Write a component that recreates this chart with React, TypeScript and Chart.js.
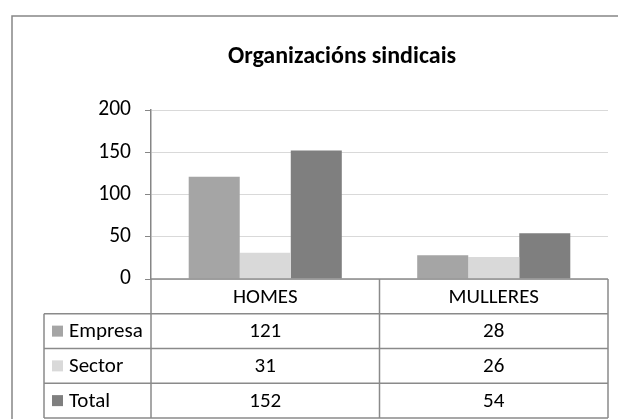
import React, { useEffect, useRef } from "react";
import { Chart, registerables } from "chart.js";

Chart.register(...registerables);

const chartTitle = "Organizacións sindicais";
const categories = ["HOMES", "MULLERES"];
const seriesNames = ["Empresa", "Sector", "Total"];
const empresa = [121, 28];
const sector = [31, 26];
const total = [152, 54];
const yTicks = [0, 50, 100, 150, 200];
const seriesColors = ["#a5a5a5", "#d9d9d9", "#7f7f7f"];

const FONT = "Calibri, Carlito, Lato, sans-serif";

const tablePlugin = {
  id: "excelTable",
  beforeDraw(chart: any) {
    const { ctx } = chart;
    ctx.save();
    ctx.fillStyle = "#ffffff";
    ctx.fillRect(0, 0, chart.width, chart.height);
    ctx.strokeStyle = "#868686";
    ctx.lineWidth = 1.5;
    ctx.beginPath();
    ctx.moveTo(chart.width + 5, 16);
    ctx.lineTo(12, 16);
    ctx.lineTo(12, chart.height + 5);
    ctx.stroke();
    ctx.restore();
  },
  afterDraw(chart: any) {
    const { ctx, chartArea, scales } = chart;
    const xs = scales.x;
    const left = chartArea.left;
    const right = chartArea.right;
    const top = chartArea.bottom;
    const rowH = 34.75;
    const legendLeft = 44;
    const n = categories.length;
    const catW = (right - left) / n;

    ctx.save();
    // title
    ctx.fillStyle = "#000000";
    ctx.font = `bold 24px ${FONT}`;
    ctx.textAlign = "center";
    ctx.textBaseline = "alphabetic";
    ctx.fillText(chartTitle, 342, 63);

    // table lines
    ctx.strokeStyle = "#8a8a8a";
    ctx.lineWidth = 1.5;
    ctx.beginPath();
    ctx.moveTo(left, top);
    ctx.lineTo(right, top);
    const rows = chart.data.datasets.length;
    for (let i = 1; i <= rows + 1; i++) {
      const y = top + i * rowH;
      ctx.moveTo(legendLeft, y);
      ctx.lineTo(right, y);
    }
    const bottom = top + (rows + 1) * rowH;
    ctx.moveTo(legendLeft, top + rowH);
    ctx.lineTo(legendLeft, bottom);
    for (let c = 0; c <= n; c++) {
      const x = left + c * catW;
      ctx.moveTo(x, top);
      ctx.lineTo(x, bottom);
    }
    ctx.stroke();

    // header labels
    ctx.font = `21px ${FONT}`;
    ctx.fillStyle = "#000000";
    ctx.textBaseline = "middle";
    ctx.textAlign = "center";
    categories.forEach((cat, c) => {
      const cx = xs.getPixelForValue(c);
      ctx.fillText(cat, cx, top + rowH / 2 + 1);
    });

    // rows
    chart.data.datasets.forEach((ds: any, r: number) => {
      const cy = top + (r + 1) * rowH + rowH / 2;
      ctx.fillStyle = ds.backgroundColor;
      ctx.fillRect(52, cy - 5.5, 11, 11);
      ctx.fillStyle = "#000000";
      ctx.textAlign = "left";
      ctx.fillText(ds.label, 69, cy + 1);
      ctx.textAlign = "center";
      ds.data.forEach((v: number, c: number) => {
        ctx.fillText(String(v), xs.getPixelForValue(c), cy + 1);
      });
    });
    ctx.restore();
  },
};

export default function App() {
  const ref = useRef<HTMLCanvasElement | null>(null);
  useEffect(() => {
    if (!ref.current) return;
    const values = [empresa, sector, total];
    const chart = new Chart(ref.current, {
      type: "bar",
      data: {
        labels: categories,
        datasets: seriesNames.map((name, i) => ({
          label: name,
          data: values[i],
          backgroundColor: seriesColors[i],
          borderWidth: 0,
          categoryPercentage: 0.67,
          barPercentage: 1.0,
        })),
      },
      options: {
        responsive: false,
        animation: false,
        devicePixelRatio: 1,
        layout: { padding: { left: 0, right: 10, top: 110, bottom: 140 } },
        plugins: {
          legend: { display: false },
          title: { display: false },
          tooltip: { enabled: false },
        },
        scales: {
          x: {
            display: false,
            grid: { display: false },
          },
          y: {
            min: 0,
            max: 200,
            afterFit: (s: any) => {
              s.width = 151;
            },
            afterBuildTicks: (s: any) => {
              s.ticks = yTicks.map((v) => ({ value: v }));
            },
            grid: {
              color: "#d9d9d9",
              lineWidth: 1,
              tickColor: "#868686",
              tickLength: 6,
            },
            border: { color: "#868686", width: 1.5 },
            ticks: {
              color: "#000000",
              padding: 14,
              font: { family: FONT, size: 21.5 },
            },
          },
        },
      },
      plugins: [tablePlugin],
    });
    return () => chart.destroy();
  }, []);
  return (
    <div style={{ position: "absolute", left: 0, top: 0, width: 618, height: 419 }}>
      <canvas ref={ref} width={618} height={419} style={{ display: "block" }} />
    </div>
  );
}
